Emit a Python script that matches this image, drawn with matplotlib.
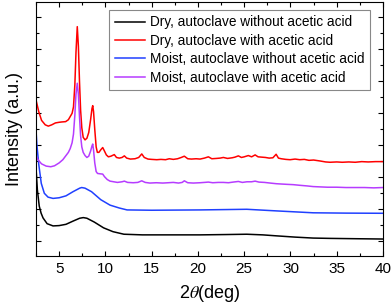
import matplotlib
matplotlib.use("Agg")
import matplotlib.pyplot as plt
from matplotlib.ticker import MultipleLocator, NullFormatter

plt.rcParams['font.family'] = ['Liberation Sans', 'DejaVu Sans']
plt.rcParams['mathtext.fontset'] = 'stix'

labels = ["Dry, autoclave without acetic acid",
          "Dry, autoclave with acetic acid",
          "Moist, autoclave without acetic acid",
          "Moist, autoclave with acetic acid"]
colors = ['#000000', '#ff0000', '#2040ff', '#b63cff']

black_x = [2.5, 2.65, 2.85, 3.05, 3.26, 3.7, 4.34, 5.0, 5.74, 6.5, 7.22, 7.61, 8.0, 8.8, 9.8,
           10.82, 12.0, 14.0, 17.0, 20.23, 23.0, 25.28, 27.0, 28.45, 30.5, 32.45, 34.28, 37.0, 40.0]
black_y = [2.3, 1.6, 1.1, 0.88, 0.73, 0.55, 0.48, 0.49, 0.53, 0.63, 0.72, 0.74, 0.72, 0.6, 0.42,
           0.30, 0.22, 0.20, 0.20, 0.20, 0.21, 0.22, 0.20, 0.17, 0.13, 0.10, 0.09, 0.08, 0.07]

red_x = [2.5, 2.8, 3.1, 3.5, 3.83, 4.2, 4.6, 5.0, 5.28, 5.7, 6.0, 6.2, 6.4, 6.55, 6.7, 6.82, 6.96,
         7.08, 7.2, 7.32, 7.45, 7.6, 7.8, 8.0, 8.2, 8.4, 8.55, 8.63, 8.72, 8.85, 9.0, 9.13, 9.3,
         9.5, 9.71, 9.9, 10.1, 10.32, 10.6, 10.96, 11.2, 11.5, 11.8, 12.05, 12.3, 12.7, 13.2,
         13.6, 13.93, 14.2, 14.6, 15.0, 15.55, 16.0, 16.5, 16.9, 17.34, 17.8, 18.2, 18.53, 18.9,
         19.3, 19.8, 20.23, 20.7, 21.13, 21.5, 22.0, 22.4, 22.75, 23.2, 23.7, 24.0, 24.37, 24.7,
         25.0, 25.45, 25.8, 26.18, 26.5, 26.9, 27.3, 27.7, 28.1, 28.45, 28.7, 29.0, 29.5, 29.96,
         30.5, 31.0, 31.5, 32.0, 32.5, 33.2, 33.8, 34.28, 35.0, 35.6, 36.3, 37.0, 37.7, 38.4,
         39.2, 40.0]
red_y = [4.42, 4.05, 3.78, 3.64, 3.60, 3.64, 3.70, 3.72, 3.73, 3.74, 3.80, 3.90, 4.00, 4.20, 4.90,
         5.90, 6.71, 6.10, 5.00, 4.10, 3.55, 3.25, 3.17, 3.22, 3.40, 3.80, 4.15, 4.24, 4.05, 3.50,
         2.95, 2.78, 2.78, 2.86, 2.93, 2.82, 2.70, 2.64, 2.66, 2.71, 2.62, 2.60, 2.62, 2.67, 2.60,
         2.57, 2.58, 2.62, 2.73, 2.62, 2.57, 2.56, 2.55, 2.56, 2.55, 2.58, 2.56, 2.58, 2.62, 2.66,
         2.58, 2.57, 2.58, 2.57, 2.60, 2.64, 2.58, 2.59, 2.60, 2.62, 2.59, 2.61, 2.63, 2.67, 2.62,
         2.64, 2.68, 2.64, 2.70, 2.64, 2.63, 2.62, 2.60, 2.61, 2.72, 2.60, 2.58, 2.56, 2.55, 2.57,
         2.55, 2.56, 2.53, 2.54, 2.51, 2.48, 2.47, 2.48, 2.47, 2.48, 2.47, 2.49, 2.48, 2.49, 2.49]

blue_x = [2.5, 2.6, 2.8, 3.07, 3.4, 3.8, 4.34, 5.0, 5.74, 6.5, 7.22, 7.44, 7.8, 8.5, 9.5, 10.5,
          11.5, 12.34, 15.0, 20.23, 25.28, 28.45, 32.45, 36.0, 40.0]
blue_y = [3.48, 3.0, 2.4, 1.81, 1.5, 1.38, 1.34, 1.36, 1.42, 1.55, 1.66, 1.68, 1.66, 1.55, 1.30,
          1.13, 1.04, 0.98, 0.97, 0.98, 1.0, 0.95, 0.89, 0.88, 0.875]

mag_x = [2.5, 2.8, 3.1, 3.6, 4.1, 4.5, 5.0, 5.4, 5.74, 6.0, 6.2, 6.4, 6.55, 6.7, 6.82, 6.96, 7.08,
         7.2, 7.32, 7.45, 7.6, 7.8, 8.0, 8.2, 8.4, 8.55, 8.63, 8.72, 8.85, 9.0, 9.15, 9.4, 9.71,
         9.9, 10.2, 10.5, 10.9, 11.3, 11.8, 12.05, 12.4, 13.0, 13.5, 13.93, 14.3, 14.8, 15.5,
         16.2, 16.8, 17.34, 17.9, 18.3, 18.53, 18.9, 19.5, 20.23, 20.7, 21.13, 21.6, 22.2, 22.75,
         23.3, 23.8, 24.37, 24.8, 25.3, 25.8, 26.18, 26.6, 27.2, 27.8, 28.45, 29.0, 29.6, 30.3,
         31.0, 31.8, 32.45, 33.2, 34.0, 35.0, 36.0, 37.0, 38.0, 39.0, 40.0]
mag_y = [2.66, 2.52, 2.42, 2.35, 2.33, 2.36, 2.45, 2.55, 2.68, 2.78, 2.90, 3.08, 3.35, 3.95, 4.60,
         4.94, 4.60, 3.90, 3.30, 2.95, 2.78, 2.68, 2.62, 2.66, 2.82, 2.98, 3.04, 2.85, 2.45, 2.18,
         2.12, 2.11, 2.10, 2.02, 1.93, 1.88, 1.86, 1.84, 1.86, 1.88, 1.84, 1.83, 1.84, 1.89, 1.84,
         1.82, 1.83, 1.82, 1.83, 1.84, 1.82, 1.84, 1.89, 1.83, 1.82, 1.83, 1.84, 1.85, 1.83, 1.84,
         1.84, 1.83, 1.85, 1.87, 1.84, 1.86, 1.86, 1.88, 1.85, 1.84, 1.82, 1.80, 1.79, 1.78, 1.77,
         1.75, 1.73, 1.71, 1.70, 1.69, 1.69, 1.68, 1.68, 1.68, 1.67, 1.68]

fig = plt.figure(figsize=(3.92, 3.08), dpi=100)
ax = fig.add_axes([36/392, 1 - 256.3/308, (383 - 36)/392, (256.3 - 1.7)/308])

series = [(black_x, black_y), (red_x, red_y), (blue_x, blue_y), (mag_x, mag_y)]
for (xs, ys), c, lab in zip(series, colors, labels):
    ax.plot(xs, ys, color=c, lw=1.1, label=lab)

ax.set_xlim(2.5, 40)
ax.set_ylim(-0.47, 7.49)
ax.xaxis.set_major_locator(MultipleLocator(5))
ax.xaxis.set_minor_locator(MultipleLocator(2.5))
ax.yaxis.set_major_locator(MultipleLocator(1))
ax.yaxis.set_minor_locator(MultipleLocator(0.5))
ax.yaxis.set_major_formatter(NullFormatter())
ax.tick_params(which='both', direction='in', top=True, right=True, width=0.8)
ax.tick_params(which='major', length=3.5, labelsize=11, pad=4)
ax.tick_params(which='minor', length=2)
for s in ax.spines.values():
    s.set_linewidth(0.8)

ax.set_xlabel(r'2$\theta$(deg)', fontsize=13, labelpad=5)
ax.set_ylabel('Intensity (a.u.)', fontsize=13, labelpad=5)

leg = ax.legend(loc='upper right', bbox_to_anchor=(370/392, 1 - 10/308),
                bbox_transform=fig.transFigure, borderaxespad=0, fontsize=9.8,
                frameon=True, fancybox=False, edgecolor='#888888', framealpha=1,
                handlelength=2.2, handletextpad=0.4, labelspacing=0.32, borderpad=0.4)
leg.get_frame().set_linewidth(0.8)

fig.savefig('out.png', dpi=100)
